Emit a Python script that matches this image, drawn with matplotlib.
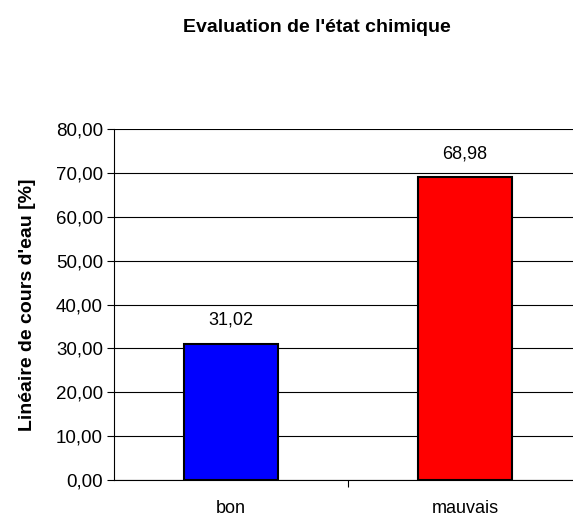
import numpy as np
import matplotlib
matplotlib.use("Agg")
import matplotlib.pyplot as plt

plt.rcParams['font.family'] = ['Liberation Sans', 'DejaVu Sans']

categories = ['bon', 'mauvais']
values = [31.02, 68.98]
colors = ['#0000FF', '#FF0000']
yticks = [0, 10, 20, 30, 40, 50, 60, 70, 80]

fig = plt.figure(figsize=(5.73, 5.18), dpi=100)
ax = fig.add_axes([0.199, 0.073, 0.817, 0.678])

x = np.arange(len(categories))
ax.set_axisbelow(True)
ax.yaxis.grid(True, color='black', linewidth=0.8)
bars = ax.bar(x, values, width=0.4, color=colors, edgecolor='black', linewidth=1.5)

for xi, v in zip(x, values):
    ax.annotate(f"{v:.2f}".replace('.', ','), (xi, v), xytext=(0, 17),
                textcoords='offset points', ha='center', va='center', fontsize=13)

ax.set_xlim(-0.5, 1.5)
ax.set_ylim(0, 80)
ax.set_yticks(yticks)
ax.set_yticklabels([f"{t:.2f}".replace('.', ',') for t in yticks], fontsize=13.5)
ax.set_xticks([0.5])
ax.set_xticklabels([''])
ax.tick_params(axis='x', length=5, width=0.8, direction='out')
ax.tick_params(axis='y', length=5, width=0.8, direction='out', pad=3)
for xi, c in zip(x, categories):
    ax.text(xi, -6.5, c, ha='center', va='center', fontsize=13)

for s in ['top', 'right']:
    ax.spines[s].set_visible(False)
ax.spines['left'].set_linewidth(0.8)
ax.spines['bottom'].set_linewidth(0.8)

ax.set_ylabel("Linéaire de cours d'eau [%]", fontsize=14, fontweight='bold', labelpad=14)
fig.text(0.553, 0.946, "Evaluation de l'état chimique", ha='center', va='center',
         fontsize=14, fontweight='bold')

fig.savefig('out.png', dpi=100)
